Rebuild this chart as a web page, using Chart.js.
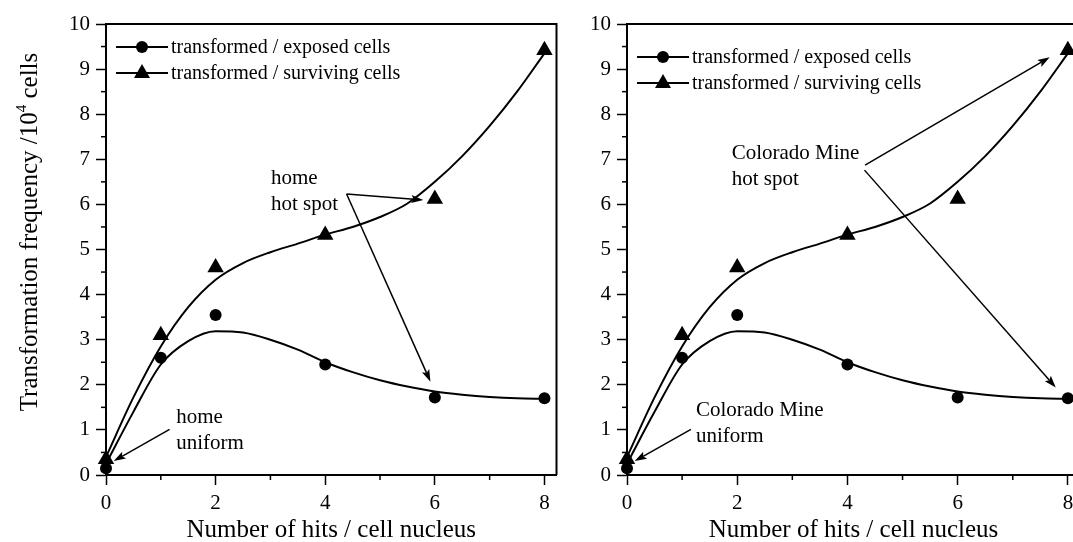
<!DOCTYPE html>
<html>
<head>
<meta charset="utf-8">
<script src="https://cdn.jsdelivr.net/npm/chart.js@4.4.0/dist/chart.umd.min.js"></script>
<style>
  html, body { margin: 0; padding: 0; background: #fff; overflow: hidden; width: 1073px; height: 542px; }
  .panel { position: absolute; top: 0; height: 542px; }
  #p1 { left: 0; width: 566px; }
  #p2 { left: 540px; width: 560px; }
</style>
</head>
<body>
<div class="panel" id="p1"><canvas id="c1"></canvas></div>
<div class="panel" id="p2"><canvas id="c2"></canvas></div>
<script>
// measured points
const hits = [0, 1, 2, 4, 6, 8];
const exposedCells = [0.15, 2.6, 3.55, 2.45, 1.72, 1.7];
const survivingCells = [0.35, 3.1, 4.6, 5.32, 6.12, 9.42];

// fitted curves
const fitHits = [0, 0.5, 1, 1.5, 2, 2.5, 3, 3.5, 4, 4.5, 5, 5.5, 6, 6.5, 7, 7.5, 8];
const exposedFit = [0.25, 1.4, 2.45, 2.97, 3.19, 3.16, 3.0, 2.78, 2.5, 2.28, 2.1, 1.96, 1.85, 1.78, 1.73, 1.7, 1.69];
const survivingFit = [0.4, 1.72, 2.85, 3.72, 4.33, 4.7, 4.94, 5.13, 5.33, 5.5, 5.72, 6.02, 6.5, 7.07, 7.74, 8.5, 9.35];

const xTicks = [0, 2, 4, 6, 8];
const xMinorTicks = [1, 3, 5, 7];
const yTicks = [0, 1, 2, 3, 4, 5, 6, 7, 8, 9, 10];
const yMinorTicks = [0.5, 1.5, 2.5, 3.5, 4.5, 5.5, 6.5, 7.5, 8.5, 9.5];

const seriesLabels = ['transformed / exposed cells', 'transformed / surviving cells'];
const xTitle = 'Number of hits / cell nucleus';
const yTitle = ['Transformation frequency /10', '4', ' cells'];

// annotations: arrows [fromX, fromY, toX, toY], notes [x, y, lines]
const homeArrows = [[4.39, 6.23, 5.79, 6.10], [4.39, 6.23, 5.92, 2.07], [1.16, 1.01, 0.14, 0.31]];
const homeNotes = [[3.01, 6.45, ['home', 'hot spot']], [1.28, 1.15, ['home', 'uniform']]];
const mineArrows = [[4.32, 6.87, 7.67, 9.26], [4.31, 6.76, 7.78, 1.94], [1.16, 1.01, 0.14, 0.31]];
const mineNotes = [[1.9, 7.01, ['Colorado Mine', 'hot spot']], [1.25, 1.30, ['Colorado Mine', 'uniform']]];

const FONT = '"Liberation Serif", "Times New Roman", serif';

function arrow(ctx, x1, y1, x2, y2) {
  const a = Math.atan2(y2 - y1, x2 - x1);
  const L = 12, W = 4;
  ctx.beginPath();
  ctx.moveTo(x1, y1);
  ctx.lineTo(x2 - Math.cos(a) * L * 0.8, y2 - Math.sin(a) * L * 0.8);
  ctx.stroke();
  ctx.beginPath();
  ctx.moveTo(x2, y2);
  ctx.lineTo(x2 - Math.cos(a) * L - Math.sin(a) * W, y2 - Math.sin(a) * L + Math.cos(a) * W);
  ctx.lineTo(x2 - Math.cos(a) * L * 0.8, y2 - Math.sin(a) * L * 0.8);
  ctx.lineTo(x2 - Math.cos(a) * L + Math.sin(a) * W, y2 - Math.sin(a) * L - Math.cos(a) * W);
  ctx.closePath();
  ctx.fill();
}

const decor = {
  id: 'decor',
  afterDraw(chart, args, opts) {
    const ctx = chart.ctx;
    const a = chart.chartArea;
    const xs = chart.scales.x, ys = chart.scales.y;
    ctx.save();
    ctx.strokeStyle = '#000';
    ctx.fillStyle = '#000';

    // frame top + right
    ctx.lineWidth = 2;
    ctx.beginPath();
    ctx.moveTo(a.left, a.top);
    ctx.lineTo(a.right, a.top);
    ctx.lineTo(a.right, a.bottom);
    ctx.stroke();

    // minor ticks
    ctx.lineWidth = 1.5;
    yMinorTicks.forEach(v => {
      const py = ys.getPixelForValue(v);
      ctx.beginPath(); ctx.moveTo(a.left - 5, py); ctx.lineTo(a.left, py); ctx.stroke();
    });
    xMinorTicks.forEach(v => {
      const px = xs.getPixelForValue(v);
      ctx.beginPath(); ctx.moveTo(px, a.bottom); ctx.lineTo(px, a.bottom + 5); ctx.stroke();
    });

    // legend
    ctx.font = '20px ' + FONT;
    ctx.textBaseline = 'middle';
    ctx.textAlign = 'left';
    seriesLabels.forEach((lab, i) => {
      const y = a.top + opts.legendTop + i * 26;
      const x0 = a.left + 10;
      ctx.lineWidth = 2;
      ctx.beginPath(); ctx.moveTo(x0, y); ctx.lineTo(x0 + 52, y); ctx.stroke();
      const mx = x0 + 26;
      ctx.beginPath();
      if (i === 0) {
        ctx.arc(mx, y, 6, 0, Math.PI * 2);
      } else {
        ctx.moveTo(mx, y - 9); ctx.lineTo(mx + 8, y + 5); ctx.lineTo(mx - 8, y + 5); ctx.closePath();
      }
      ctx.fill();
      ctx.fillText(lab, x0 + 55, y + 1);
    });

    // annotations
    ctx.lineWidth = 1.5;
    opts.arrows.forEach(r => {
      arrow(ctx, xs.getPixelForValue(r[0]), ys.getPixelForValue(r[1]),
        xs.getPixelForValue(r[2]), ys.getPixelForValue(r[3]));
    });
    ctx.font = '21px ' + FONT;
    ctx.textBaseline = 'alphabetic';
    opts.notes.forEach(n => {
      const px = xs.getPixelForValue(n[0]), py = ys.getPixelForValue(n[1]);
      n[2].forEach((t, k) => ctx.fillText(t, px, py + k * 26));
    });

    // x title
    ctx.font = '25px ' + FONT;
    ctx.textAlign = 'center';
    ctx.fillText(xTitle, (a.left + a.right) / 2, 537);

    // y title (left panel only)
    if (opts.yTitle) {
      ctx.translate(37, 232);
      ctx.rotate(-Math.PI / 2);
      ctx.font = '25px ' + FONT;
      const w1 = ctx.measureText(yTitle[0]).width;
      const w3 = ctx.measureText(yTitle[2]).width;
      ctx.font = '15px ' + FONT;
      const w2 = ctx.measureText(yTitle[1]).width;
      let x = -(w1 + w2 + w3) / 2;
      ctx.textAlign = 'left';
      ctx.font = '25px ' + FONT;
      ctx.fillText(yTitle[0], x, 0);
      ctx.font = '15px ' + FONT;
      ctx.fillText(yTitle[1], x + w1, -11);
      ctx.font = '25px ' + FONT;
      ctx.fillText(yTitle[2], x + w1 + w2, 0);
    }
    ctx.restore();
  }
};

function makeChart(id, yWidth, padRight, legendTop, arrows, notes, showYTitle) {
  const tickFont = { family: FONT, size: 21 };
  return new Chart(document.getElementById(id), {
    type: 'scatter',
    data: {
      datasets: [
        {
          data: fitHits.map((x, i) => ({ x, y: exposedFit[i] })),
          showLine: true, borderColor: '#000', borderWidth: 2, pointRadius: 0,
          cubicInterpolationMode: 'monotone'
        },
        {
          data: fitHits.map((x, i) => ({ x, y: survivingFit[i] })),
          showLine: true, borderColor: '#000', borderWidth: 2, pointRadius: 0,
          cubicInterpolationMode: 'monotone'
        },
        {
          label: seriesLabels[0],
          data: hits.map((x, i) => ({ x, y: exposedCells[i] })),
          pointStyle: 'circle', pointRadius: 6, backgroundColor: '#000', borderColor: '#000', borderWidth: 0,
          clip: false
        },
        {
          label: seriesLabels[1],
          data: hits.map((x, i) => ({ x, y: survivingCells[i] })),
          pointStyle: 'triangle', pointRadius: 9.5, backgroundColor: '#000', borderColor: '#000', borderWidth: 0,
          clip: false
        }
      ]
    },
    options: {
      responsive: true,
      maintainAspectRatio: false,
      animation: false,
      events: [],
      layout: { padding: { left: 0, right: padRight, top: 24, bottom: 0 } },
      scales: {
        x: {
          type: 'linear', min: 0, max: 8.22,
          afterBuildTicks: s => { s.ticks = xTicks.map(v => ({ value: v })); },
          afterFit: s => { s.height = 67; },
          ticks: { font: tickFont, color: '#000', padding: 6, maxRotation: 0 },
          grid: { drawOnChartArea: false, drawTicks: true, tickLength: 10, tickWidth: 1.5, tickColor: '#000' },
          border: { color: '#000', width: 2 }
        },
        y: {
          type: 'linear', min: 0, max: 10,
          afterBuildTicks: s => { s.ticks = yTicks.map(v => ({ value: v })); },
          afterFit: s => { s.width = yWidth; },
          ticks: { font: tickFont, color: '#000', padding: 6 },
          grid: { drawOnChartArea: false, drawTicks: true, tickLength: 10, tickWidth: 1.5, tickColor: '#000' },
          border: { color: '#000', width: 2 }
        }
      },
      plugins: {
        legend: { display: false },
        tooltip: { enabled: false },
        decor: { legendTop: legendTop, arrows: arrows, notes: notes, yTitle: showYTitle }
      }
    },
    plugins: [decor]
  });
}

makeChart('c1', 106, 8, 23, homeArrows, homeNotes, true);
makeChart('c2', 87, 20, 33, mineArrows, mineNotes, false);
</script>
</body>
</html>
